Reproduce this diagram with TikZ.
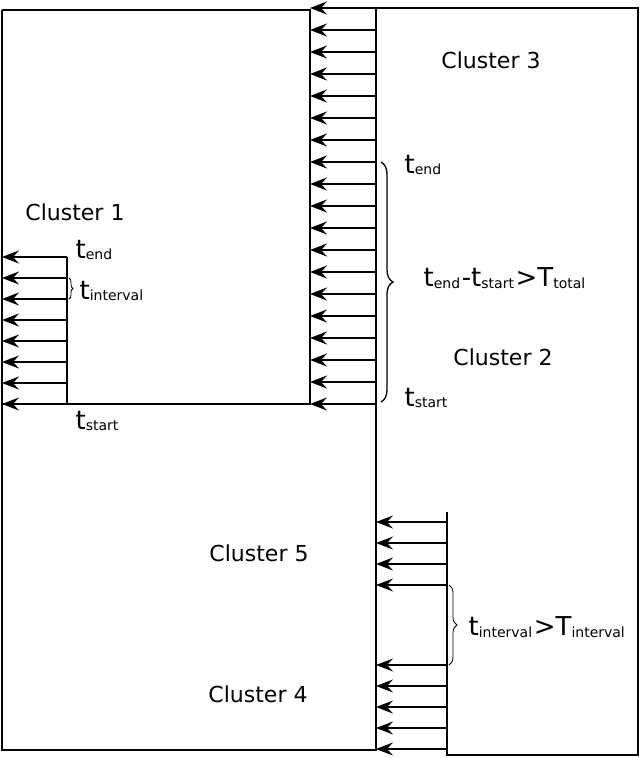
\documentclass[tikz,border=0pt]{standalone}
\usepackage{fontspec}
\setmainfont{DejaVu Sans}
\usetikzlibrary{arrows.meta,decorations.pathreplacing}
\newcommand{\tvar}[2]{{\fontsize{26}{26}\selectfont #1}\raisebox{-0.25ex}{\fontsize{14}{14}\selectfont #2}}

\begin{document}
\begin{tikzpicture}[x=1pt,y=-1pt,>={Stealth[length=17pt,width=13pt,inset=6pt]},line width=1.2pt]
\tikzstyle{lbl}=[font=\fontsize{22}{22}\selectfont, inner sep=0pt]
\tikzstyle{tl}=[inner sep=0pt, anchor=west]
\tikzstyle{brc}=[decorate, decoration={brace, amplitude=#1}, line width=1.3pt]
\useasboundingbox (0,0) rectangle (640,758);

% boxes
\draw (2,10) -- (310,10) -- (310,404) -- (2,404);
\draw (2,10) -- (2,750) -- (376,750) -- (376,8) -- (638,8) -- (638,755) -- (447,755) -- (447,512);
\draw (67,257) -- (67,404);

% cluster 2/3 boundary arrows
\foreach \i in {0,...,18} {
  \coordinate (r\i) at (376,{8+22*\i});
  \coordinate (l\i) at (310,{8+22*\i});
  \draw[->] (r\i) -- (l\i);
}
% cluster 1 arrows
\foreach \i in {0,...,7} {
  \coordinate (a\i) at (67,{257+21*\i});
  \coordinate (b\i) at (2,{257+21*\i});
  \draw[->] (a\i) -- (b\i);
}
% cluster 4/5 arrows
\foreach \y [count=\i] in {522,543,564,585,665,686,707,728,749} {
  \coordinate (c\i) at (447,\y);
  \coordinate (d\i) at (376,\y);
  \draw[->] (c\i) -- (d\i);
}

% braces
\coordinate (bt) at (381,162);
\coordinate (bb) at (381,402);
\draw[brc=12pt] (bt) -- (bb);
\coordinate (st) at (69,278);
\coordinate (sb) at (69,299);
\draw[brc=4pt, line width=0.8pt] (st) -- (sb);
\coordinate (it) at (449,585);
\coordinate (ib) at (449,665);
\draw[brc=8pt, line width=0.8pt] (it) -- (ib);

% labels
\node[lbl] (c3) at (491,60) {Cluster 3};
\node[lbl] (c1) at (75,212) {Cluster 1};
\node[lbl] (c2) at (503,357) {Cluster 2};
\node[lbl] (c5) at (259,553) {Cluster 5};
\node[lbl] (c4) at (258,694) {Cluster 4};

\node[tl] (te2) at (404,165) {\tvar{t}{end}};
\node[tl] (ts2) at (404,398) {\tvar{t}{start}};
\node[tl] (tt) at (423,278) {\tvar{t}{end}\,\tvar{-t}{start}\,\tvar{>T}{total}};
\node[tl] (te1) at (75,250) {\tvar{t}{end}};
\node[tl] (ti1) at (79,291) {\tvar{t}{interval}};
\node[tl] (ts1) at (75,421) {\tvar{t}{start}};
\node[tl] (ti2) at (468,627) {\tvar{t}{interval}\,\tvar{>T}{interval}};
\end{tikzpicture}
\end{document}
